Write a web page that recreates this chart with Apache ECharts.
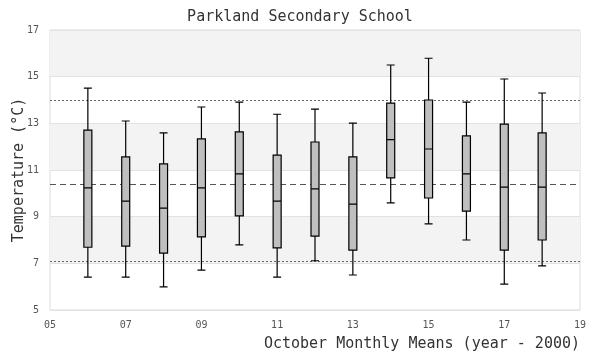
<!DOCTYPE html>
<html>
<head>
<meta charset="utf-8">
<script src="https://cdn.jsdelivr.net/npm/echarts@6/dist/echarts.min.js"></script>
<style>html,body{margin:0;padding:0;background:#fff}#c{width:600px;height:360px}</style>
</head>
<body>
<div id="c"></div>
<script>
var years = [6, 7, 8, 9, 10, 11, 12, 13, 14, 15, 16, 17, 18];
var whiskerLow  = [6.41, 6.41, 5.99, 6.71, 7.79, 6.41, 7.11, 6.50, 9.59, 8.69, 8.00, 6.11, 6.89];
var q1          = [7.69, 7.74, 7.44, 8.13, 9.03, 7.66, 8.17, 7.57, 10.66, 9.80, 9.24, 7.57, 8.00];
var median      = [10.23, 9.67, 9.37, 10.23, 10.83, 9.67, 10.19, 9.54, 12.30, 11.90, 10.83, 10.27, 10.27];
var q3          = [12.71, 11.56, 11.26, 12.33, 12.63, 11.64, 12.20, 11.56, 13.87, 14.00, 12.46, 12.97, 12.59];
var whiskerHigh = [14.51, 13.10, 12.59, 13.70, 13.91, 13.39, 13.61, 13.01, 15.50, 15.79, 13.91, 14.90, 14.30];
var upperLine = 14.0;
var meanLine = 10.4;
var lowerLine = 7.1;

var font = 'DejaVu Sans Mono';
var boxData = years.map(function (y, i) {
  return [y, whiskerLow[i], q1[i], median[i], q3[i], whiskerHigh[i]];
});

var chart = echarts.init(document.getElementById('c'));
chart.setOption({
  animation: false,
  backgroundColor: '#fff',
  title: [{
    text: 'Parkland Secondary School',
    left: 'center', top: 5,
    textStyle: { fontFamily: font, fontSize: 15, fontWeight: 'normal', color: '#333' }
  }, {
    text: 'October Monthly Means (year - 2000)',
    right: 20, top: 337, padding: 0,
    textStyle: { fontFamily: font, fontSize: 15, fontWeight: 'normal', color: '#333' }
  }],
  grid: { left: 50, right: 20, top: 30, bottom: 50, containLabel: false, outerBoundsMode: 'none', show: true, borderColor: '#dcdcdc', borderWidth: 1, backgroundColor: 'transparent' },
  xAxis: {
    type: 'value', min: 5, max: 19, interval: 2,
    axisLine: { show: false }, axisTick: { show: false },
    splitLine: { show: false },
    axisLabel: {
      fontFamily: font, fontSize: 10, color: '#555', margin: 10,
      formatter: function (v) { return (v < 10 ? '0' : '') + v; }
    }
  },
  yAxis: {
    type: 'value', min: 5, max: 17, interval: 2,
    name: 'Temperature (°C)', nameLocation: 'middle', nameGap: 23, nameMoveOverlap: false,
    nameTextStyle: { fontFamily: font, fontSize: 15, color: '#333' },
    axisLine: { show: false }, axisTick: { show: false },
    splitLine: { show: true, lineStyle: { color: '#e2e2e2', width: 1 } },
    splitArea: { show: true, areaStyle: { color: ['rgba(255,255,255,0)', '#f3f3f3'] } },
    axisLabel: { fontFamily: font, fontSize: 10, color: '#555', margin: 11 }
  },
  series: [{
    type: 'boxplot',
    layout: 'horizontal',
    z: 3,
    boxWidth: [8, 8],
    data: boxData,
    itemStyle: { color: '#bfbfbf', borderColor: '#000', borderWidth: 1.2 },
    markLine: {
      z: 1,
      silent: true,
      symbol: 'none',
      label: { show: false },
      data: [
        { yAxis: upperLine, lineStyle: { type: [2, 2], color: '#666', width: 1 } },
        { yAxis: meanLine, lineStyle: { type: [6, 4], color: '#555', width: 1 } },
        { yAxis: lowerLine, lineStyle: { type: [2, 2], color: '#666', width: 1 } }
      ]
    }
  }]
});
</script>
</body>
</html>
